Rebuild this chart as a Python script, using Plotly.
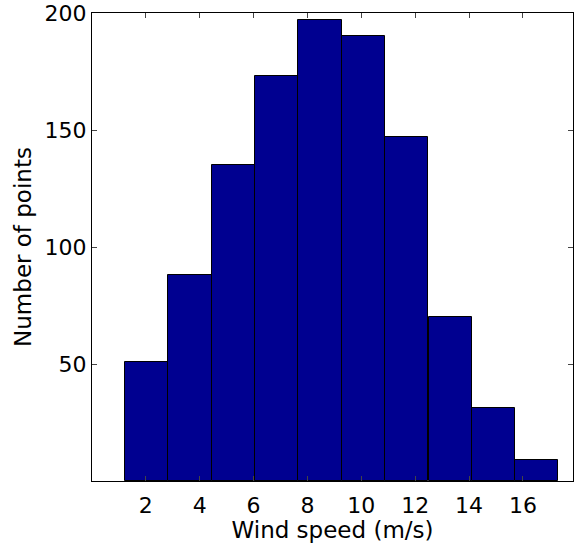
import plotly.graph_objects as go

bin_centers = [2.03, 3.64, 5.25, 6.86, 8.47, 10.08, 11.69, 13.30, 14.91, 16.50]
counts = [51, 88, 135, 173, 197, 190, 147, 70, 31, 9]
bin_width = 1.607
x_ticks = [2, 4, 6, 8, 10, 12, 14, 16]
y_ticks = [50, 100, 150, 200]

fig = go.Figure()
fig.add_trace(go.Bar(
    x=bin_centers, y=counts, width=bin_width,
    marker=dict(color="#000090", line=dict(color="black", width=1)),
    showlegend=False,
))

family = "DejaVu Sans, Liberation Sans, Arial, sans-serif"
tick_font = dict(family=family, size=22, color="black")
title_font = dict(family=family, size=23, color="black")
fig.update_layout(
    width=574, height=543,
    margin=dict(l=92, r=1, t=13, b=62, autoexpand=False),
    paper_bgcolor="white", plot_bgcolor="white",
    font=title_font,
    bargap=0,
    xaxis=dict(
        range=[0, 17.86], tickvals=x_ticks, ticks="inside", ticklen=5,
        showline=True, linecolor="black", linewidth=1, mirror="ticks",
        showgrid=False, zeroline=False, tickfont=tick_font, automargin=False,
        ticklabelstandoff=5,
        title=dict(text="Wind speed (m/s)", font=title_font, standoff=0),
    ),
    yaxis=dict(
        range=[0, 200], tickvals=y_ticks, ticks="inside", ticklen=5,
        showline=True, linecolor="black", linewidth=1, mirror="ticks",
        showgrid=False, zeroline=False, tickfont=tick_font, automargin=False,
        title=dict(text="Number of points", font=title_font, standoff=6),
    ),
)
fig.write_html(
    "out.html",
    config={"displayModeBar": False},
    post_script="document.body.style.margin='0';document.body.style.overflow='hidden';",
)
